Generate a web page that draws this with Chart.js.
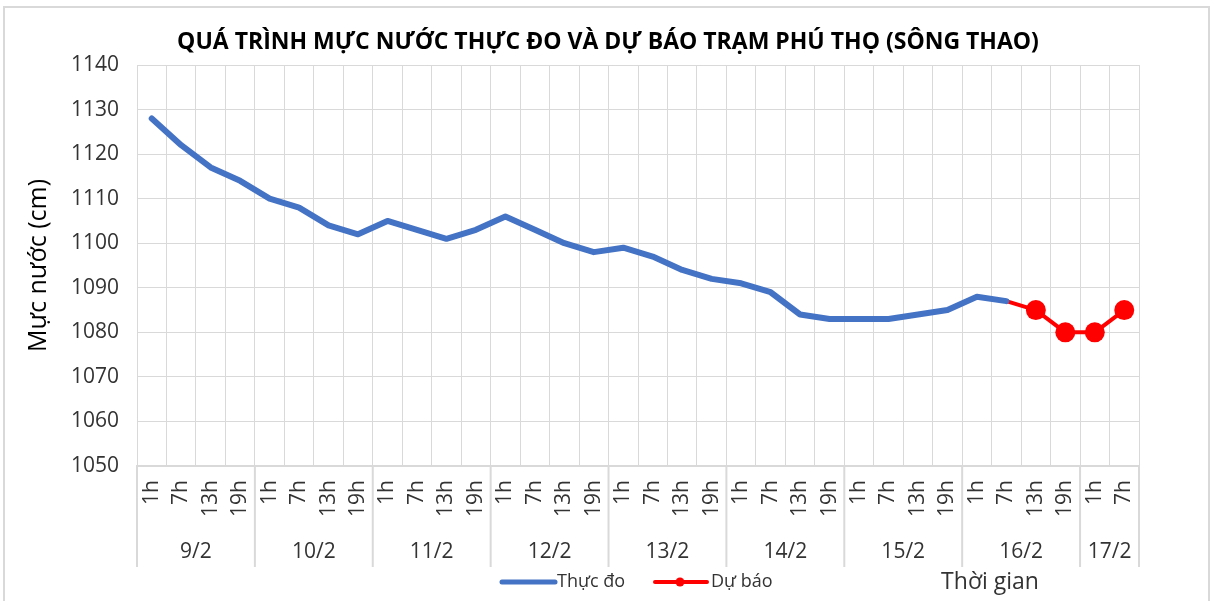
<!DOCTYPE html>
<html lang="vi">
<head>
<meta charset="utf-8">
<title>Mực nước trạm Phú Thọ</title>
<script src="https://cdn.jsdelivr.net/npm/chart.js@4.4.1/dist/chart.umd.min.js"></script>
<style>
  html, body { margin: 0; padding: 0; background: #fff; }
  #khung { width: 1211px; height: 601px; }
</style>
</head>
<body>
<div id="khung"><canvas id="graphMucNuoc"></canvas></div>
<script>
//Du lieu
const gioLabels = [
    '1h','7h','13h','19h', '1h','7h','13h','19h', '1h','7h','13h','19h', '1h','7h','13h','19h',
    '1h','7h','13h','19h', '1h','7h','13h','19h', '1h','7h','13h','19h', '1h','7h','13h','19h',
    '1h','7h'
];
const ngayLabels = ['9/2','10/2','11/2','12/2','13/2','14/2','15/2','16/2','17/2'];
const soGioMoiNgay = [4,4,4,4,4,4,4,4,2];

const thucDo = [
    1128,1122,1117,1114, 1110,1108,1104,1102, 1105,1103,1101,1103, 1106,1103,1100,1098,
    1099,1097,1094,1092, 1091,1089,1084,1083, 1083,1083,1084,1085, 1088,1087,null,null,
    null,null
];
const duBao = [
    null,null,null,null, null,null,null,null, null,null,null,null, null,null,null,null,
    null,null,null,null, null,null,null,null, null,null,null,null, null,1087,1085,1080,
    1080,1085
];
const yTicks = [1050,1060,1070,1080,1090,1100,1110,1120,1130,1140];

const FONT = "'Open Sans', 'Noto Sans', sans-serif";
const colorTexto = '#333333';
const colorGrid = '#d9d9d9';

//Plugin: khung, tieu de, nhom ngay, chu giai
const pluginTrangTri = {
    id: 'trangTri',
    afterDraw(chart) {
        const ctx = chart.ctx;
        const x = chart.scales.x;
        const area = chart.chartArea;
        const buoc = x.getPixelForValue(1) - x.getPixelForValue(0);

        ctx.save();
        //khung ngoai
        ctx.strokeStyle = colorGrid;
        ctx.lineWidth = 2;
        ctx.strokeRect(4, 7, 1205, 600);

        //tieu de
        ctx.fillStyle = '#000';
        ctx.font = `bold 23px ${FONT}`;
        ctx.textAlign = 'center';
        ctx.textBaseline = 'middle';
        ctx.fillText('QUÁ TRÌNH MỰC NƯỚC THỰC ĐO VÀ DỰ BÁO TRẠM PHÚ THỌ (SÔNG THAO)', 608, 42);

        //nhom ngay
        ctx.font = `21px ${FONT}`;
        ctx.fillStyle = colorTexto;
        ctx.strokeStyle = colorGrid;
        ctx.lineWidth = 2;
        let batDau = 0;
        ngayLabels.forEach((ngay, i) => {
            const n = soGioMoiNgay[i];
            const trai = x.getPixelForValue(batDau) - buoc / 2;
            const phai = x.getPixelForValue(batDau + n - 1) + buoc / 2;
            ctx.beginPath();
            ctx.moveTo(trai, area.bottom);
            ctx.lineTo(trai, 567);
            if (i === ngayLabels.length - 1) {
                ctx.moveTo(phai, area.bottom);
                ctx.lineTo(phai, 567);
            }
            ctx.stroke();
            ctx.fillText(ngay, (trai + phai) / 2, 552);
            batDau += n;
        });

        //chu giai
        ctx.lineCap = 'round';
        ctx.strokeStyle = '#4472C4';
        ctx.lineWidth = 5;
        ctx.beginPath();
        ctx.moveTo(502, 582);
        ctx.lineTo(555, 582);
        ctx.stroke();
        ctx.font = `18px ${FONT}`;
        ctx.textAlign = 'left';
        ctx.fillText('Thực đo', 557, 582);

        ctx.strokeStyle = '#FF0000';
        ctx.lineWidth = 4;
        ctx.beginPath();
        ctx.moveTo(655, 582);
        ctx.lineTo(707, 582);
        ctx.stroke();
        ctx.fillStyle = '#FF0000';
        ctx.beginPath();
        ctx.arc(680, 582, 4.5, 0, Math.PI * 2);
        ctx.fill();
        ctx.fillStyle = colorTexto;
        ctx.fillText('Dự báo', 711, 582);

        ctx.font = `23px ${FONT}`;
        ctx.textAlign = 'center';
        ctx.fillText('Thời gian', 990, 582);
        ctx.restore();
    }
};

const dataMucNuoc = {
    labels: gioLabels,
    datasets: [
        {
            label: 'Thực đo',
            data: thucDo,
            borderColor: '#4472C4',
            backgroundColor: '#4472C4',
            borderWidth: 6,
            pointRadius: 0,
            borderJoinStyle: 'round',
            borderCapStyle: 'round',
            tension: 0
        },
        {
            label: 'Dự báo',
            data: duBao,
            borderColor: '#FF0000',
            backgroundColor: '#FF0000',
            borderWidth: 4,
            pointRadius: ctx => (thucDo[ctx.dataIndex] != null ? 0 : 10),
            pointBorderWidth: 0,
            borderJoinStyle: 'round',
            tension: 0
        }
    ]
};

const configMucNuoc = {
    type: 'line',
    data: dataMucNuoc,
    options: {
        responsive: true,
        maintainAspectRatio: false,
        animation: false,
        layout: {
            padding: { left: 4, top: 65, right: 72, bottom: 0 }
        },
        plugins: {
            legend: { display: false },
            tooltip: { enabled: false }
        },
        scales: {
            x: {
                offset: true,
                grid: { offset: true, color: colorGrid, lineWidth: 1, drawTicks: false },
                border: { color: colorGrid, width: 2 },
                ticks: {
                    autoSkip: false,
                    minRotation: 90,
                    maxRotation: 90,
                    padding: 14,
                    color: colorTexto,
                    font: { family: FONT, size: 21 }
                },
                afterFit: scale => { scale.height = 601 - 466; }
            },
            y: {
                min: 1050,
                max: 1140,
                afterBuildTicks: scale => { scale.ticks = yTicks.map(v => ({ value: v })); },
                grid: { color: colorGrid, lineWidth: 1, drawTicks: false },
                border: { color: colorGrid },
                ticks: {
                    padding: 18,
                    color: colorTexto,
                    font: { family: FONT, size: 21 },
                    callback: v => String(v)
                },
                title: {
                    display: true,
                    text: 'Mực nước (cm)',
                    color: '#000',
                    padding: { top: 20, bottom: 0 },
                    font: { family: FONT, size: 25 }
                },
                afterFit: scale => { scale.width = 133; }
            }
        }
    },
    plugins: [pluginTrangTri]
};

new Chart(document.querySelector('#graphMucNuoc'), configMucNuoc);
</script>
</body>
</html>
